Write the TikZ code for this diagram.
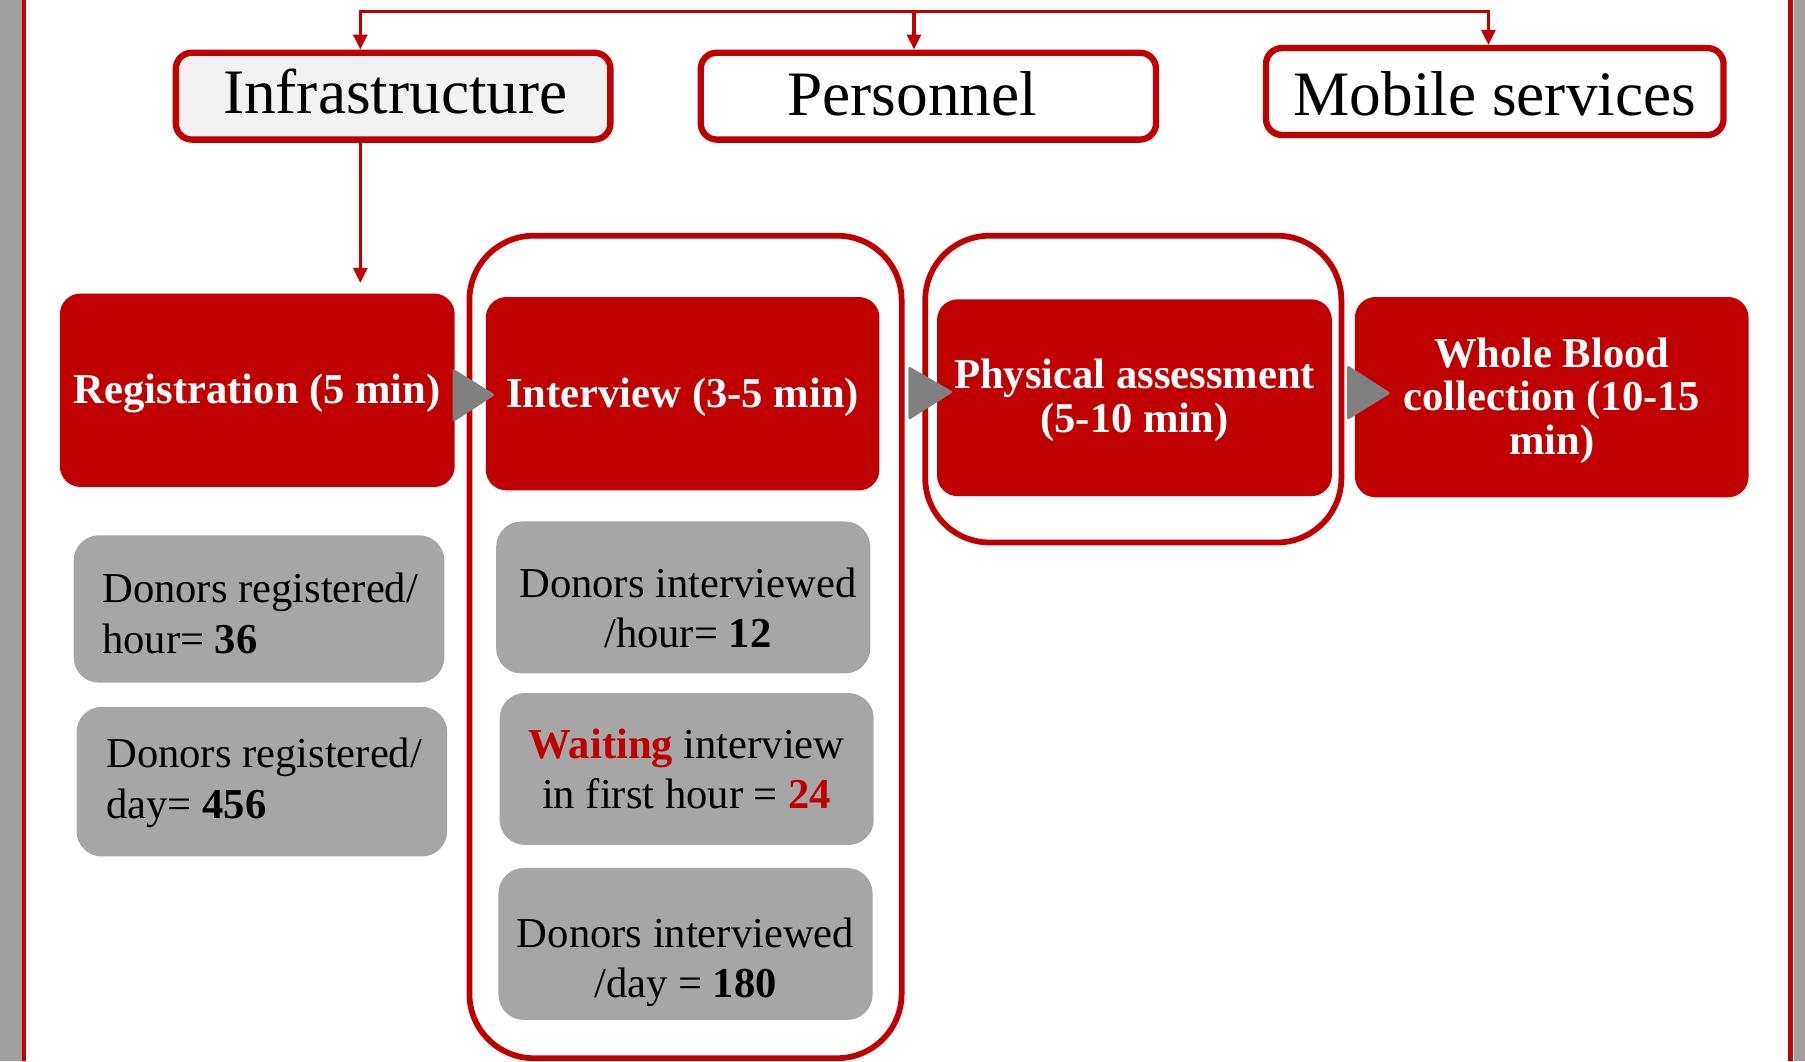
\documentclass[tikz,border=0pt]{standalone}
\usepackage{fontspec}
\setmainfont{Liberation Serif}
\usetikzlibrary{arrows.meta,calc}
\definecolor{cred}{HTML}{C00000}
\definecolor{cgray}{HTML}{A6A6A6}
\definecolor{chevc}{HTML}{808080}
\definecolor{infrafill}{HTML}{F2F2F2}
\definecolor{sidec}{HTML}{A0A0A0}
\begin{document}
\begin{tikzpicture}[x=1pt,y=-1pt,
  topbox/.style={draw=cred, line width=5.5pt, rounded corners=14pt, minimum height=75.5pt, inner sep=0pt},
  toptext/.style={inner sep=0pt, text=black, font=\fontsize{55}{60}\selectfont},
  redbox/.style={fill=cred, rounded corners=18pt, inner sep=0pt},
  redtext/.style={inner sep=0pt, text=white, align=center, font=\fontsize{37}{38}\selectfont\bfseries},
  graybox/.style={fill=cgray, rounded corners=22pt, inner sep=0pt, minimum width=322pt, minimum height=130pt},
  graytext/.style={inner sep=0pt, text=black, font=\fontsize{37}{44}\selectfont},
  groupbox/.style={draw=cred, line width=5pt, rounded corners=56pt, inner sep=0pt},
  conn/.style={draw=cred, line width=3pt},
  tipa/.style={-{Triangle[length=13pt,width=12pt]}},
  chevron/.style={fill=chevc, rounded corners=2pt}
]
\useasboundingbox (0,0) rectangle (1568,922);
% frame
\fill[sidec] (0,0) rectangle (19,922);
\draw[cred, line width=3.5pt] (21,0) -- (21,922);
\fill[sidec] (1558,0) rectangle (1568,922);
\draw[cred, line width=4pt] (1555.5,0) -- (1555.5,922);

% top boxes
\node[topbox, fill=infrafill, minimum width=377.5pt] (infra) at (341.5,83.5) {};
\node[topbox, fill=white, minimum width=395.5pt] (pers) at (806.5,83.5) {};
\node[topbox, fill=white, minimum width=397.5pt] (mob) at (1298.5,79.5) {};
\node[toptext] (infrat) at ($(infra.center)+(2,-4)$) {Infrastructure};
\node[toptext] (perst) at ($(pers.center)+(-14,-2)$) {Personnel};
\node[toptext] (mobt) at ($(mob.center)+(0,2)$) {Mobile services};

\coordinate (t1) at (313,10);
\coordinate (t2) at (794,10);
\coordinate (t3) at (1293,10);
\draw[conn, {Triangle[length=13pt,width=12pt]}-{Triangle[length=13pt,width=12pt]}] (t1 |- infra.north) -- (t1) -- (t3) -- (t3 |- mob.north);
\draw[conn, tipa] (t2) -- (t2 |- pers.north);

% groups
\node[groupbox, minimum width=375.5pt, minimum height=714.5pt] (g1) at (595.5,562) {};
\node[groupbox, minimum width=361.5pt, minimum height=266.5pt] (g2) at (984.5,338) {};

% process boxes
\node[redbox, minimum width=343pt, minimum height=168pt] (reg) at (223.5,339) {};
\node[redbox, minimum width=342pt, minimum height=168pt] (intv) at (593,342) {};
\node[redbox, minimum width=343pt, minimum height=171pt] (phys) at (985.5,345.5) {};
\node[redbox, minimum width=342pt, minimum height=174pt] (whole) at (1348,345) {};
\node[redtext] (regt) at ($(reg.center)+(0,3)$) {Registration (5 min)};
\node[redtext] (intvt) at ($(intv.center)+(0,3)$) {Interview (3-5 min)};
\node[redtext] (physt) at ($(phys.center)+(0,2)$) {Physical assessment\\(5-10 min)};
\node[redtext] (wholet) at ($(whole.center)+(0,3)$) {Whole Blood\\collection (10-15\\min)};

\draw[conn, tipa, shorten >=9pt] (infra.south -| t1) -- (reg.north -| t1);

% chevrons
\fill[chevron] ($(reg.east)+(-2,-19)$) -- ($(reg.east)+(35,4)$) -- ($(reg.east)+(-2,28)$) -- cycle;
\fill[chevron] ($(intv.east)+(25,-24)$) -- ($(intv.east)+(64,-1.5)$) -- ($(intv.east)+(25,23)$) -- cycle;
\fill[chevron] ($(phys.east)+(13,-28.5)$) -- ($(phys.east)+(51,-4)$) -- ($(phys.east)+(13,19.5)$) -- cycle;

% info boxes
\node[graybox, minimum height=128pt] (dr1) at (225,529) {};
\node[graybox] (dr2) at (227.5,679) {};
\node[graybox, minimum width=325pt, minimum height=132pt] (di1) at (593.5,519) {};
\node[graybox, minimum width=325pt, minimum height=132pt] (wait) at (596.5,668) {};
\node[graybox, minimum width=325pt, minimum height=132pt] (di2) at (595.5,820) {};
\node[graytext, align=left] (dr1t) at ($(dr1.center)+(1,4)$) {Donors registered/\\hour= \textbf{36}};
\node[graytext, align=left] (dr2t) at ($(dr2.center)+(2,1)$) {Donors registered/\\day= \textbf{456}};
\node[graytext, align=center] (di1t) at ($(di1.center)+(4,9)$) {Donors interviewed\\/hour= \textbf{12}};
\node[graytext, align=center] (waitt) at ($(wait.center)+(0,0)$) {\textcolor{cred}{\textbf{Waiting}} interview\\in first hour = \textcolor{cred}{\textbf{24}}};
\node[graytext, align=center] (di2t) at ($(di2.center)+(0,16)$) {Donors interviewed\\/day = \textbf{180}};
\end{tikzpicture}
\end{document}
